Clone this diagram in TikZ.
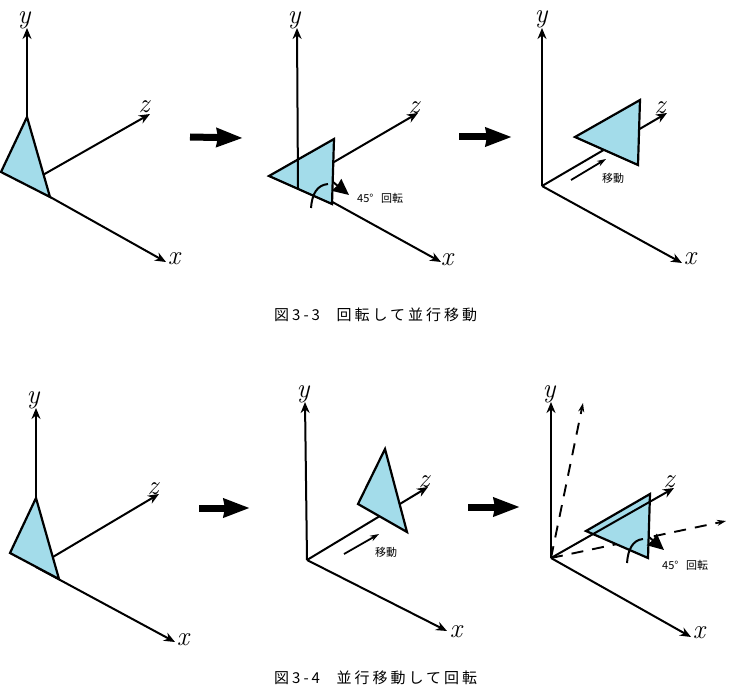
\documentclass[tikz,border=0pt]{standalone}
\usepackage{fontspec}
\usetikzlibrary{arrows.meta}
\newfontfamily\jpfont[LetterSpace=20]{Noto Sans CJK JP}
\newfontfamily\jpsmall{Noto Sans CJK JP}
\definecolor{trifill}{RGB}{163,220,234}
\tikzset{
  axisarrow/.style={line width=2pt,-{Stealth[length=11pt,width=9pt]}},
  dashaxis/.style={line width=1.9pt,dash pattern=on 12pt off 9pt,-{Stealth[length=9pt,width=6pt]}},
  tribox/.style={draw=black,fill=trifill,line width=2.2pt,line join=miter},
  lab/.style={inner sep=0pt,font=\fontsize{27}{27}\selectfont\itshape},
  smalltxt/.style={inner sep=0pt,anchor=west,font=\jpsmall\fontsize{11}{11}\selectfont},
  captxt/.style={inner sep=0pt,anchor=west,font=\jpfont\fontsize{15}{15}\selectfont},
  movearrow/.style={line width=1.8pt,-{Stealth[length=9pt,width=6pt]}},
  bigarrow/.style={line width=7pt,-{Stealth[length=26pt,width=18pt,inset=1pt]}},
  rotarc/.style={line width=2pt},
  rothead/.style={line width=2pt,-{Stealth[length=16pt,width=15pt,inset=1pt]}}
}
\begin{document}
\begin{tikzpicture}[x=1pt,y=-1pt]
\useasboundingbox (0,0) rectangle (734,695);
% ---- top row, panel 1
\coordinate (a1o) at (27,184); \coordinate (a1y) at (27,28); \coordinate (a1x) at (166,262); \coordinate (a1z) at (150,114);
\draw[axisarrow] (a1o) -- (a1y);
\draw[axisarrow] (a1o) -- (a1x);
\draw[axisarrow] (a1o) -- (a1z);
\draw[tribox] (27,117) -- (1,172) -- (50,197) -- cycle;
\node[lab] (a1ly) at (24,20) {y};
\node[lab] (a1lz) at (144,107) {z};
\node[lab] (a1lx) at (174,259) {x};
% arrow 1
\coordinate (b1s) at (190,137); \coordinate (b1e) at (243,138);
\draw[bigarrow] (b1s) -- (b1e);
% ---- top row, panel 2
\coordinate (a2o) at (298,183); \coordinate (a2y) at (297,28); \coordinate (a2x) at (441,262); \coordinate (a2z) at (418,113);
\draw[axisarrow] (a2o) -- (a2z);
\draw[axisarrow] (a2o) -- (a2x);
\draw[tribox] (269,176) -- (334,139) -- (332,204) -- cycle;
\coordinate (a2yb) at (298,188);
\draw[axisarrow] (a2yb) -- (a2y);
\node[lab] (a2ly) at (294,20) {y};
\node[lab] (a2lz) at (414,108) {z};
\node[lab] (a2lx) at (447,260) {x};
\draw[rotarc] (311,208) .. controls (312,194) and (317,185) .. (328,184);
\draw[rothead] (333,182) -- (349,195);
\node[smalltxt] (a2t) at (357,198) {45°\hspace{0.7em}回転};
% arrow 2
\coordinate (b2s) at (459,137); \coordinate (b2e) at (512,137);
\draw[bigarrow] (b2s) -- (b2e);
% ---- top row, panel 3
\coordinate (a3o) at (542,186); \coordinate (a3y) at (542,28); \coordinate (a3x) at (682,263); \coordinate (a3z) at (667,113);
\draw[axisarrow] (a3o) -- (a3y);
\draw[axisarrow] (a3o) -- (a3x);
\draw[axisarrow] (a3o) -- (a3z);
\draw[tribox] (575,137) -- (640,100) -- (638,165) -- cycle;
\node[lab] (a3ly) at (541,19) {y};
\node[lab] (a3lz) at (660,108) {z};
\node[lab] (a3lx) at (690,259) {x};
\coordinate (m3s) at (571,180); \coordinate (m3e) at (606,159);
\draw[movearrow] (m3s) -- (m3e);
\node[smalltxt] (a3t) at (602,178) {移動};
% caption 1
\node[captxt] (c1) at (274,315) {図3-3\hspace{1.1em}回転して並行移動};
% ---- bottom row, panel 1
\coordinate (d1o) at (36,567); \coordinate (d1y) at (36,408); \coordinate (d1x) at (175,642); \coordinate (d1z) at (159,494);
\draw[axisarrow] (d1o) -- (d1y);
\draw[axisarrow] (d1o) -- (d1x);
\draw[axisarrow] (d1o) -- (d1z);
\draw[tribox] (36,498) -- (10,553) -- (59,579) -- cycle;
\node[lab] (d1ly) at (33,400) {y};
\node[lab] (d1lz) at (153,489) {z};
\node[lab] (d1lx) at (183,640) {x};
\coordinate (b3s) at (199,508); \coordinate (b3e) at (250,508);
\draw[bigarrow] (b3s) -- (b3e);
% ---- bottom row, panel 2
\coordinate (d2o) at (307,560); \coordinate (d2y) at (305,402); \coordinate (d2x) at (447,631); \coordinate (d2z) at (428,487);
\draw[axisarrow] (d2o) -- (d2y);
\draw[axisarrow] (d2o) -- (d2x);
\draw[axisarrow] (d2o) -- (d2z);
\draw[tribox] (385,449) -- (358,504) -- (407,532) -- cycle;
\node[lab] (d2ly) at (303,394) {y};
\node[lab] (d2lz) at (424,482) {z};
\node[lab] (d2lx) at (456,632) {x};
\coordinate (m2s) at (344,554); \coordinate (m2e) at (379,534);
\draw[movearrow] (m2s) -- (m2e);
\node[smalltxt] (d2t) at (375,552) {移動};
\coordinate (b4s) at (468,507); \coordinate (b4e) at (520,507);
\draw[bigarrow] (b4s) -- (b4e);
% ---- bottom row, panel 3
\coordinate (d3o) at (551,558); \coordinate (d3y) at (551,402); \coordinate (d3x) at (691,637); \coordinate (d3z) at (674,488);
\coordinate (d3yd) at (583,403); \coordinate (d3xd) at (726,521);
\draw[axisarrow] (d3o) -- (d3y);
\draw[axisarrow] (d3o) -- (d3x);
\draw[dashaxis] (d3o) -- (d3yd);
\draw[dashaxis] (d3o) -- (d3xd);
\draw[tribox] (586,531) -- (650,494) -- (648,558) -- cycle;
\draw[axisarrow] (d3o) -- (d3z);
\node[lab] (d3ly) at (549,394) {y};
\node[lab] (d3lz) at (669,482) {z};
\node[lab] (d3lx) at (699,633) {x};
\draw[rotarc] (627,563) .. controls (628,549) and (633,540) .. (643,539);
\draw[rothead] (649,537) -- (664,550);
\node[smalltxt] (d3t) at (662,565) {45°\hspace{0.7em}回転};
% caption 2
\node[captxt] (c2) at (274,678) {図3-4\hspace{1.1em}並行移動して回転};
\end{tikzpicture}
\end{document}
